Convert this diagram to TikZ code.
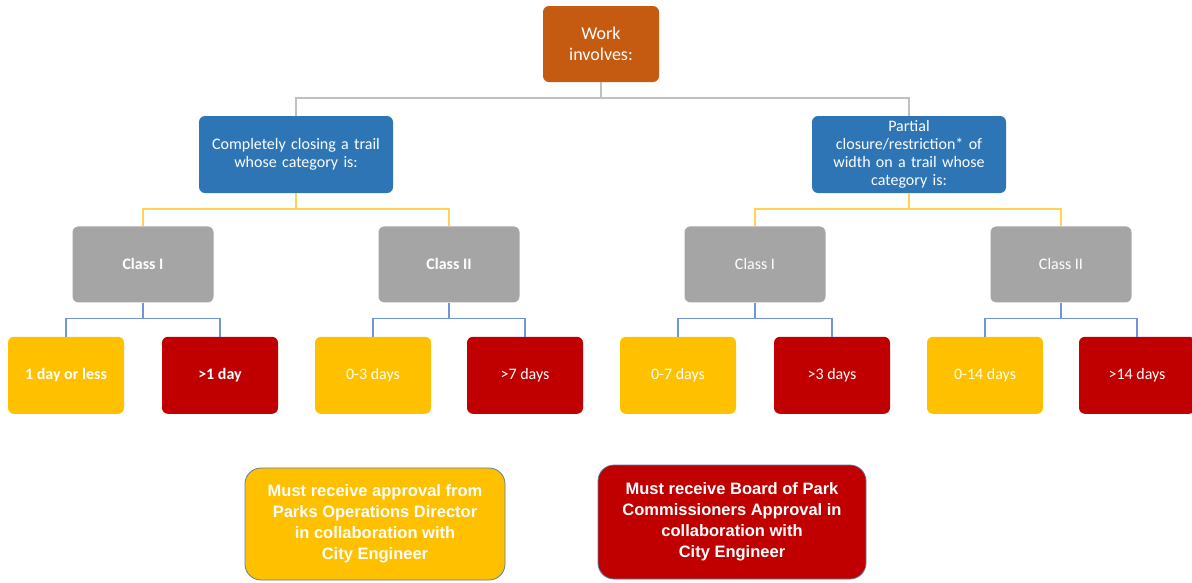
\documentclass[tikz,border=0pt]{standalone}
\usepackage{fontspec}
\setmainfont{Carlito}
\newfontfamily\arialfont{Liberation Sans}
\usepackage{xcolor}
\usepackage{tikz}
\usetikzlibrary{positioning}

\definecolor{workorange}{HTML}{C55A11}
\definecolor{catblue}{HTML}{2E75B6}
\definecolor{classgray}{HTML}{A5A5A5}
\definecolor{okyellow}{HTML}{FFC000}
\definecolor{badred}{HTML}{C00000}
\definecolor{greyline}{HTML}{C0C0C0}
\definecolor{yellowline}{HTML}{FFD34D}
\definecolor{blueline}{HTML}{6F95D6}
\definecolor{noteedge}{HTML}{5A7EA0}

\begin{document}
\begin{tikzpicture}[x=1pt, y=-1pt, node distance = 34pt]
            \tikzstyle{box} = [rectangle, rounded corners=6pt, text=white, align=center, inner sep=2pt, font=\fontsize{16}{18}\selectfont]
            \tikzstyle{work} = [box, fill=workorange, minimum width=116pt, minimum height=76pt, font=\fontsize{18}{21}\selectfont]
            \tikzstyle{category} = [box, fill=catblue, minimum width=194pt, minimum height=77pt, text width=190pt]
            \tikzstyle{class} = [box, fill=classgray, minimum width=141pt, minimum height=76pt]
            \tikzstyle{short} = [box, fill=okyellow, minimum width=116pt, minimum height=77pt]
            \tikzstyle{long} = [box, fill=badred, minimum width=116pt, minimum height=77pt]
            \tikzstyle{note} = [rectangle, rounded corners=16pt, draw=noteedge, line width=0.8pt, text=white, align=center, font=\arialfont\bfseries\fontsize{16.5}{21}\selectfont]
            \tikzstyle{link} = [line width=1.5pt]
            \useasboundingbox (0,0) rectangle (1192,582);

            \node [work] (S0) at (601,44) {Work\\involves:};

            \node [category] (S1) at (296,154.5) {Completely closing a trail\\whose category is:};
            \node [category] (S2) at (909,154.5) {Partial\\closure/restriction* of\\width on a trail whose\\category is:};

            \node [class, below = 33pt of S1, xshift=-153pt] (C1) {\bfseries Class I};
            \node [class, below = 33pt of S1, xshift=153pt] (C2) {\bfseries Class II};
            \node [class, below = 33pt of S2, xshift=-154pt] (C3) {Class I};
            \node [class, below = 33pt of S2, xshift=152pt] (C4) {Class II};

            \node [short, below = of C1, xshift=-77pt] (L1) {\bfseries 1 day or less};
            \node [long, below = of C1, xshift=77pt] (L2) {\bfseries >1 day};
            \node [short, below = of C2, xshift=-76pt] (L3) {0-3 days};
            \node [long, below = of C2, xshift=76pt] (L4) {>7 days};
            \node [short, below = of C3, xshift=-77pt] (L5) {0-7 days};
            \node [long, below = of C3, xshift=77pt] (L6) {>3 days};
            \node [short, below = of C4, xshift=-76pt] (L7) {0-14 days};
            \node [long, below = of C4, xshift=76pt] (L8) {>14 days};

            \node [note, fill=okyellow, minimum width=260pt, minimum height=112pt] (N1) at (375,524)
                {Must receive approval from\\Parks Operations Director\\in collaboration with\\City Engineer};
            \node [note, fill=badred, minimum width=268pt, minimum height=114pt] (N2) at (732,522)
                {Must receive Board of Park\\Commissioners Approval in\\collaboration with\\City Engineer};

            \foreach \i in {1, 2}
                \draw [link, greyline] (S0.south) -- ++(0,16) -| (S\i.north);
            \foreach \i in {1, 2}
                \draw [link, yellowline] (S1.south) -- ++(0,16) -| (C\i.north);
            \foreach \i in {3, 4}
                \draw [link, yellowline] (S2.south) -- ++(0,16) -| (C\i.north);
            \foreach \c/\a/\b in {1/1/2, 2/3/4, 3/5/6, 4/7/8} {
                \draw [link, blueline] (C\c.south) -- ++(0,16) -| (L\a.north);
                \draw [link, blueline] (C\c.south) -- ++(0,16) -| (L\b.north);
            }
        \end{tikzpicture}
\end{document}
